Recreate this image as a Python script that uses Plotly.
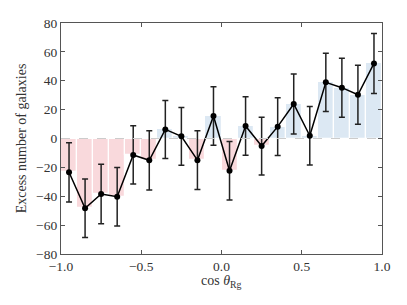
import plotly.graph_objects as go

x_centers = [-0.95, -0.85, -0.75, -0.65, -0.55, -0.45, -0.35, -0.25, -0.15, -0.05,
             0.05, 0.15, 0.25, 0.35, 0.45, 0.55, 0.65, 0.75, 0.85, 0.95]
excess = [-23.4, -48.3, -38.4, -40.3, -11.4, -15.1, 6.3, 1.5, -15.0, 15.6,
          -22.3, 8.7, -5.2, 8.2, 23.9, 1.9, 38.9, 35.2, 30.3, 52.0]
errors = [20.5, 20.2, 20.6, 20.3, 20.2, 20.5, 20.1, 20.0, 20.3, 20.3,
          20.3, 20.3, 20.0, 20.0, 20.7, 20.3, 20.2, 20.4, 20.4, 20.8]
x_ticks = [-1.0, -0.5, 0.0, 0.5, 1.0]
x_tick_labels = ["\u22121.0", "\u22120.5", "0.0", "0.5", "1.0"]
y_ticks = [-80, -60, -40, -20, 0, 20, 40, 60, 80]
y_tick_labels = ["\u221280", "\u221260", "\u221240", "\u221220", "0", "20", "40", "60", "80"]
x_title = "cos <i>θ</i><sub>Rg</sub>"
y_title = "Excess number of galaxies"

RED = "#f9d9dc"
BLUE = "#dce8f3"
bar_colors = [RED if v < 0 else BLUE for v in excess]

font_family = "Liberation Serif"
text_color = "#333333"

fig = go.Figure()
fig.add_trace(go.Bar(
    x=x_centers, y=excess, width=0.1,
    marker=dict(color=bar_colors, line=dict(color="white", width=1.2)),
    showlegend=False, hoverinfo="skip",
))
fig.add_shape(type="line", xref="x", yref="y", x0=-1, x1=1, y0=0, y1=0,
              line=dict(color="#cccccc", width=1, dash="dash"), layer="above")
fig.add_trace(go.Scatter(
    x=x_centers, y=excess, mode="lines+markers",
    line=dict(color="black", width=1.5),
    marker=dict(color="black", size=6),
    error_y=dict(type="data", array=errors, visible=True, color="#222222",
                 thickness=1.5, width=3),
    showlegend=False,
))

axis_common = dict(
    showline=True, linecolor="#555555", linewidth=1.2, mirror="ticks",
    ticks="inside", ticklen=4, tickcolor="#555555", tickwidth=1,
    showgrid=False, zeroline=False, automargin=False,
    tickfont=dict(family=font_family, size=13.5, color=text_color),
)

fig.update_layout(
    width=407, height=305,
    margin=dict(l=61, r=25, t=23, b=51),
    plot_bgcolor="white", paper_bgcolor="white",
    bargap=0,
    font=dict(family=font_family),
    xaxis=dict(range=[-1, 1], tickvals=x_ticks, ticktext=x_tick_labels, **axis_common),
    yaxis=dict(range=[-80, 80], tickvals=y_ticks, ticktext=y_tick_labels, **axis_common),
)
fig.add_annotation(text=x_title, xref="paper", yref="paper", x=0.5, y=-0.108,
                   xanchor="center", yanchor="top", yshift=8, showarrow=False,
                   font=dict(family=font_family, size=14, color=text_color))
fig.add_annotation(text=y_title, xref="paper", yref="paper", x=-0.122, y=0.5,
                   xanchor="center", yanchor="middle", showarrow=False, textangle=-90,
                   font=dict(family=font_family, size=14, color=text_color))

fig.write_html("out.html", config={"displayModeBar": False},
               post_script="document.body.style.margin='0';document.body.style.overflow='hidden';")
